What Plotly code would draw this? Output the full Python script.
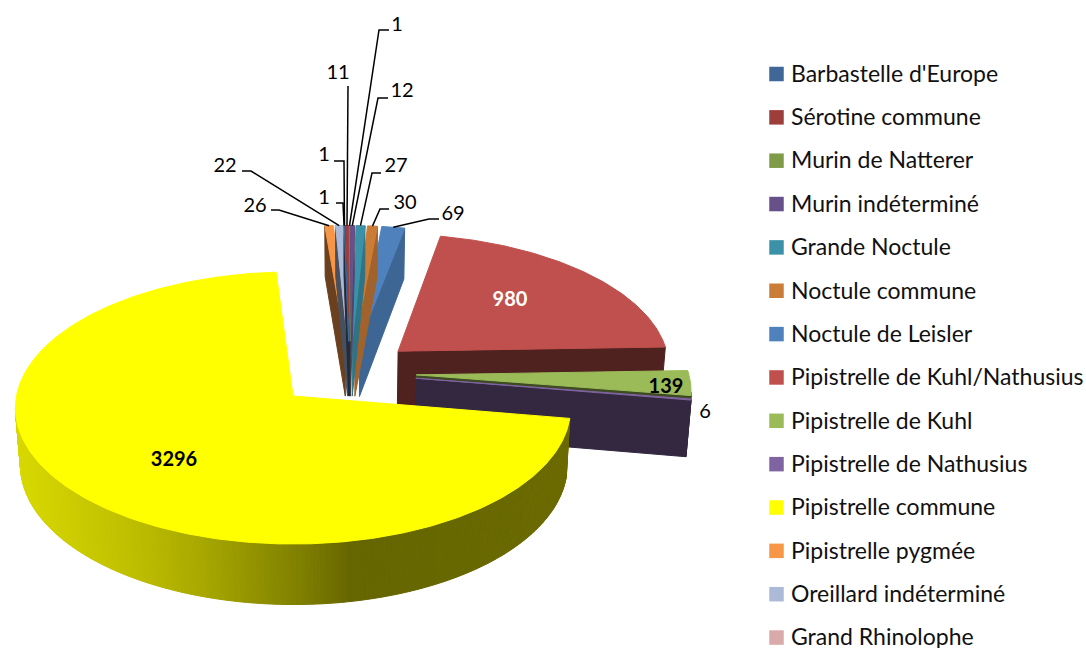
import math
import numpy as np
import plotly.graph_objects as go

# ---- data ----
species = ["Barbastelle d'Europe", "Sérotine commune", "Murin de Natterer", "Murin indéterminé",
           "Grande Noctule", "Noctule commune", "Noctule de Leisler", "Pipistrelle de Kuhl/Nathusius",
           "Pipistrelle de Kuhl", "Pipistrelle de Nathusius", "Pipistrelle commune", "Pipistrelle pygmée",
           "Oreillard indéterminé", "Grand Rhinolophe"]
counts = [1, 11, 1, 12, 27, 30, 69, 980, 139, 6, 3296, 26, 22, 1]
colors = ["#3F6797", "#9E3E3B", "#7F9B48", "#68518A", "#3B92A8", "#CB7D37", "#4F81BD",
          "#C0504D", "#9BBB59", "#8064A2", "#FFFF00", "#F79646", "#AABAD7", "#D9AAA9"]

# ---- projection of the tilted 3D pie ----
CX, CY, AX, BY, P = 293.0, 396.0, 276.5, 135.0, 0.088
EXPLODE = 0.26
NUDGE_U, NUDGE_V = 0.016, 0.014   # fine placement of the cluster of small slices
TEXT_DY = 2
total = sum(counts)
edges = np.cumsum([0] + counts) / total * 360.0


def project(u, v):
    w = 1 - P * v
    return CX + AX * u / w, CY + BY * v / w


def drop(x, y, v):
    return x + (350 - x) * 0.015, y + 56.5 + 4 * v


def direction(theta):
    t = math.radians(theta)
    return math.sin(t), -math.cos(t)


def shade(col, f):
    r, g, b = int(col[1:3], 16), int(col[3:5], 16), int(col[5:7], 16)
    return f"rgb({int(r*f)},{int(g*f)},{int(b*f)})"


big = int(np.argmax(counts))
dy0 = direction((edges[big] + edges[big + 1]) / 2)
C0 = (-EXPLODE * dy0[0], -EXPLODE * dy0[1])

fig = go.Figure()


def poly(xs, ys, color):
    fig.add_trace(go.Scatter(x=xs, y=ys, mode="lines", fill="toself", fillcolor=color,
                             line=dict(color=color, width=1), hoverinfo="skip", showlegend=False))


def signed_mid(i):
    mid = (edges[i] + edges[i + 1]) / 2
    return mid if mid < 180 else mid - 360


def slice_geometry(i):
    a0, a1 = edges[i], edges[i + 1]
    mid = (a0 + a1) / 2
    d = direction(mid)
    ou, ov = C0[0] + EXPLODE * d[0], C0[1] + EXPLODE * d[1]
    if abs(signed_mid(i)) < 15:
        ou, ov = ou + NUDGE_U, ov + NUDGE_V
    n = max(2, int((a1 - a0) * 1.5))
    plane = [(ou, ov)]
    for t in np.linspace(a0, a1, n):
        e = direction(t)
        plane.append((ou + e[0], ov + e[1]))
    return plane, (ou, ov), mid


def rim_factor(x):
    return float(np.interp(x, [15, 130, 200, 300, 350, 570], [0.85, 0.75, 0.66, 0.5, 0.4, 0.42]))


def draw_slice(i):
    plane, origin, mid = slice_geometry(i)
    col = colors[i]
    pts = [project(*p) for p in plane]
    n = len(pts)
    for k in range(n):
        j = (k + 1) % n
        A, B = pts[k], pts[j]
        if B[0] - A[0] >= 0:
            continue
        A2 = drop(A[0], A[1], plane[k][1])
        B2 = drop(B[0], B[1], plane[j][1])
        if k == 0:
            f = 0.43
        elif j == 0:
            f = 0.4 + 0.4 * max(math.cos(math.radians(edges[i + 1])), 0)
        else:
            f = rim_factor((A[0] + B[0]) / 2)
        poly([A[0], B[0], B2[0], A2[0], A[0]], [A[1], B[1], B2[1], A2[1], A[1]], shade(col, f))
    poly([p[0] for p in pts] + [pts[0][0]], [p[1] for p in pts] + [pts[0][1]], col)


def order_key(i):
    s = signed_mid(i)
    if abs(s) < 15:
        return (0, -abs(s))
    return (1, direction((edges[i] + edges[i + 1]) / 2)[1])


for i in sorted(range(len(counts)), key=order_key):
    draw_slice(i)

# ---- data labels with leader lines ----
leaders = {  # index: (label x, label y, elbow points)
    0: (324, 154, [(334, 161), (344, 161)]),
    1: (338, 72, [(348, 86)]),
    2: (397, 24, [(389, 30), (379, 30)]),
    3: (402, 90, [(388, 98), (378, 98)]),
    4: (396, 165, [(381, 173), (372, 173)]),
    5: (405, 202, [(389, 209), (380, 209)]),
    6: (453, 213, [(439, 219), (429, 219)]),
    11: (255, 205, [(271, 210), (279, 210)]),
    12: (225, 165, [(242, 171), (251, 171)]),
    13: (324, 197, [(336, 203), (343, 203)]),
}
for i, (lx, ly, elbows) in leaders.items():
    plane, origin, mid = slice_geometry(i)
    e = direction(mid)
    end = project(origin[0] + e[0], origin[1] + e[1])
    xs = [p[0] for p in elbows] + [end[0]]
    ys = [p[1] for p in elbows] + [end[1]]
    fig.add_trace(go.Scatter(x=xs, y=ys, mode="lines", line=dict(color="black", width=1.5),
                             hoverinfo="skip", showlegend=False))
    fig.add_trace(go.Scatter(x=[lx], y=[ly + TEXT_DY], mode="text", text=[str(counts[i])],
                             textfont=dict(family="Lato", size=20, color="black"),
                             hoverinfo="skip", showlegend=False))

inner = {7: (510, 299, "white", True), 8: (666, 386, "black", True),
         9: (705, 411, "black", False), 10: (174, 459, "black", True)}
for i, (lx, ly, c, bold) in inner.items():
    txt = f"<b>{counts[i]}</b>" if bold else str(counts[i])
    fig.add_trace(go.Scatter(x=[lx], y=[ly + TEXT_DY], mode="text", text=[txt],
                             textfont=dict(family="Lato", size=20, color=c),
                             hoverinfo="skip", showlegend=False))

# ---- legend ----
LEG_Y0, LEG_DY = 74.0, 43.35
ly = [LEG_Y0 + LEG_DY * k for k in range(len(species))]
fig.add_trace(go.Scatter(x=[776.5] * len(species), y=ly, mode="markers",
                         marker=dict(symbol="square", size=14.5, color=colors, line=dict(width=0)),
                         hoverinfo="skip", showlegend=False))
fig.add_trace(go.Scatter(x=[791] * len(species), y=[v + TEXT_DY for v in ly], mode="text", text=species,
                         textposition="middle right",
                         textfont=dict(family="Lato", size=23, color="#111111"),
                         hoverinfo="skip", showlegend=False))

fig.update_layout(width=1086, height=648, margin=dict(l=0, r=0, t=0, b=0, autoexpand=False),
                  paper_bgcolor="white", plot_bgcolor="white", showlegend=False,
                  xaxis=dict(range=[0, 1086], visible=False, fixedrange=True),
                  yaxis=dict(range=[648, 0], visible=False, fixedrange=True))
fig.write_html("out.html", config={"displayModeBar": False},
               post_script="document.body.style.margin='0';document.body.style.overflow='hidden';")
